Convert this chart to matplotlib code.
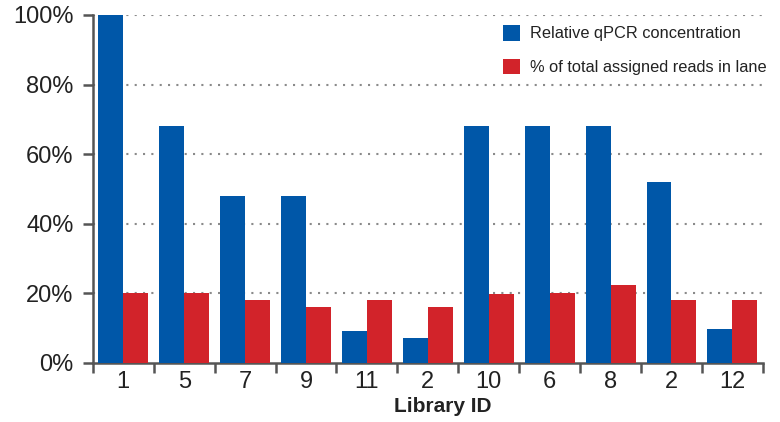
import numpy as np
import matplotlib
matplotlib.use("Agg")
import matplotlib.pyplot as plt
from matplotlib.ticker import FixedLocator, NullFormatter, FixedFormatter

plt.rcParams['font.family'] = ['Liberation Sans', 'DejaVu Sans']

# data
library_ids = ["1", "5", "7", "9", "11", "2", "10", "6", "8", "2", "12"]
qpcr_conc = [100, 68, 48, 48, 9.2, 7.2, 68, 68, 68, 52, 9.8]
assigned_reads = [20, 20, 18.2, 16.2, 18.2, 16.2, 19.7, 20, 22.5, 18.2, 18.2]
y_ticks = [0, 20, 40, 60, 80, 100]

BLUE = "#0057A8"
RED = "#D2232A"
AXIS_GREY = "#555555"
TEXT = "#222222"

fig = plt.figure(figsize=(7.8, 4.22), dpi=100)
ax = fig.add_axes([0.119, 0.14, 0.859, 0.8245])

x = np.arange(len(library_ids))
w = 0.41
ax.bar(x - w / 2, qpcr_conc, width=w, color=BLUE, label="Relative qPCR concentration", zorder=3)
ax.bar(x + w / 2, assigned_reads, width=w, color=RED, label="% of total assigned reads in lane", zorder=3)

ax.set_xlim(-0.5, len(library_ids) - 0.5)
ax.set_ylim(0, 100)

# gridlines (dotted) at 20..100
for yv in y_ticks[1:]:
    ax.axhline(yv, color="#8a8a8a", linestyle=(0, (1, 3)), linewidth=1.5, zorder=1)

# x ticks at category boundaries, labels at centres
ax.xaxis.set_major_locator(FixedLocator(np.arange(len(library_ids) + 1) - 0.5))
ax.xaxis.set_major_formatter(NullFormatter())
ax.xaxis.set_minor_locator(FixedLocator(x))
ax.xaxis.set_minor_formatter(FixedFormatter(library_ids))
ax.tick_params(axis="x", which="major", direction="out", length=7, width=1.8, color=AXIS_GREY)
ax.tick_params(axis="x", which="minor", length=0, pad=6, labelsize=17, labelcolor=TEXT)

ax.set_yticks(y_ticks)
ax.set_yticklabels([f"{v}%" for v in y_ticks])
ax.tick_params(axis="y", direction="out", length=7, width=1.8, color=AXIS_GREY,
               labelsize=17, labelcolor=TEXT, pad=7)

for side in ["top", "right"]:
    ax.spines[side].set_visible(False)
for side in ["left", "bottom"]:
    ax.spines[side].set_color(AXIS_GREY)
    ax.spines[side].set_linewidth(1.8)

ax.set_xlabel("Library ID", fontsize=15, fontweight="bold", color=TEXT)
ax.xaxis.set_label_coords(0.522, -0.097)

ax.legend(loc="upper right", bbox_to_anchor=(1.002, 0.975), bbox_transform=fig.transFigure,
          frameon=False, fontsize=11.8, handlelength=1.0, handleheight=1.05,
          handletextpad=0.65, labelspacing=1.05, labelcolor=TEXT)

fig.savefig("out.png", dpi=100)
